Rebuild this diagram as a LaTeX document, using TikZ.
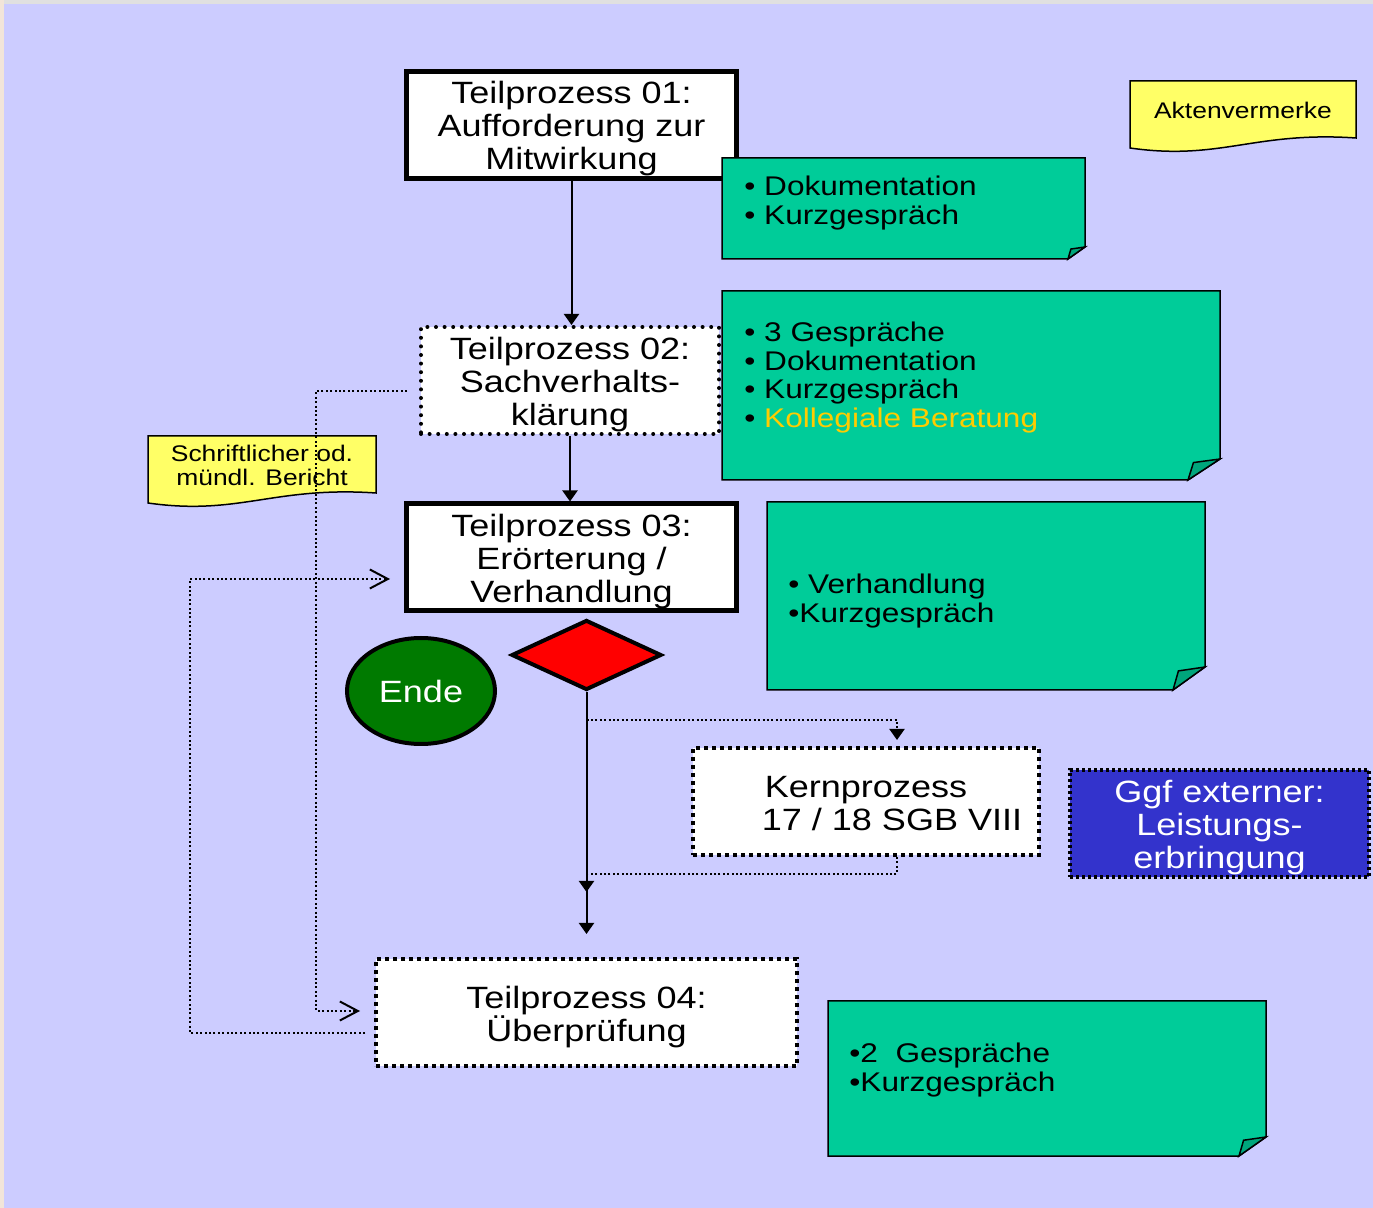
\documentclass[tikz,border=0pt]{standalone}
\usepackage{fontspec}
\setmainfont[FakeStretch=1.17]{Liberation Sans}
\usetikzlibrary{arrows.meta,shapes.geometric,calc}

\definecolor{lavbg}{HTML}{CCCCFF}
\definecolor{notegreen}{HTML}{00CC99}
\definecolor{folddark}{HTML}{00A67C}
\definecolor{docyellow}{HTML}{FFFF66}
\definecolor{gold}{HTML}{FFCC00}
\definecolor{endegreen}{HTML}{007A00}
\definecolor{extblue}{HTML}{3333CC}

\newcommand{\boxfont}{\fontsize{15.4}{16.5}\selectfont}
\newcommand{\notefont}{\fontsize{13.5}{14.2}\selectfont}
\newcommand{\docfont}{\fontsize{11.3}{12}\selectfont}

% gruene Notiz mit umgeknickter Ecke: Knoten, Breite und Hoehe der Ecke
\newcommand{\foldnote}[3]{%
  \filldraw[fill=notegreen, draw=black, line width=0.75pt] (#1.north west) -- (#1.north east)
    -- ([yshift=#3]#1.south east) -- ([xshift=-#2]#1.south east) -- (#1.south west) -- cycle;
  \filldraw[fill=folddark, draw=black, line width=0.75pt] ([xshift=-#2]#1.south east)
    -- ([xshift=-0.83*#2, yshift=0.83*#3]#1.south east) -- ([yshift=#3]#1.south east) -- cycle;
}
% gelbes Dokument mit Wellenkante
\newcommand{\docnote}[1]{%
  \filldraw[fill=docyellow, draw=black, line width=0.75pt] (#1.north west) -- (#1.north east)
    -- ([yshift=5pt]#1.south east)
    .. controls ($(#1.south west)!0.55!(#1.south east)+(0,8.5pt)$)
    and ($(#1.south west)!0.4!(#1.south east)+(0,-6.5pt)$) .. (#1.south west) -- cycle;
}

\begin{document}
\begin{tikzpicture}[x=0.5pt, y=-0.5pt,
  prozess/.style={draw, line width=2.5pt, fill=white, minimum width=165pt,
    minimum height=53.5pt, inner sep=0pt, align=center, font=\boxfont,
    text height=45pt, text depth=0pt},
  zweizeilig/.style={text height=29pt},
  punkte/.style={prozess, line width=2pt, dash pattern=on 0pt off 4.3pt, line cap=round},
  striche/.style={prozess, line width=2pt, dash pattern=on 2pt off 2pt},
  notearea/.style={inner sep=0pt, outer sep=0pt},
  notetext/.style={anchor=base west, align=left, inner sep=0pt, font=\notefont},
  doctext/.style={align=center, inner sep=0pt, font=\docfont},
  mainline/.style={line width=1pt, -{Triangle[length=5.5pt, width=7.5pt]}},
  dotline/.style={line width=1pt, dash pattern=on 1pt off 1.2pt},
  barb/.style={-{Straight Barb[length=9pt, width=9.5pt, line width=1pt]}},
  fillarrow/.style={-{Triangle[length=5.5pt, width=7.5pt]}}]

\useasboundingbox (0,0) rectangle (1373,1208);
\fill[lavbg] (0,0) rectangle (1373,1208);
\fill[black!12!white] (0,0) rectangle (1373,4);
\fill[brown!20!white] (0,0) rectangle (4,1208);

% Teilprozesse
\node[prozess] (tp1) at (571.5,125) {Teilprozess 01:\\Aufforderung zur\\Mitwirkung};
\node[punkte, minimum width=149pt] (tp2) at (570,380.5) {Teilprozess 02:\\Sachverhalts-\\klärung};
\node[prozess] (tp3) at (571.5,557.5) {Teilprozess 03:\\Erörterung /\\Verhandlung};
\node[striche, zweizeilig, minimum width=210.5pt] (tp4) at (586.5,1012.5) {Teilprozess 04:\\Überprüfung};
\node[striche, zweizeilig, minimum width=173pt] (kern) at (866,801.5) {Kernprozess\\\hspace*{26pt}17 / 18 SGB VIII};
\node[striche, minimum width=149.5pt, line width=1.7pt, dash pattern=on 1.5pt off 1.5pt,
  fill=extblue, text=white] (extern) at (1219.5,823.5) {Ggf externer:\\Leistungs-\\erbringung};

\node[ellipse, draw, line width=2pt, fill=endegreen, text=white, font=\boxfont,
  minimum width=74pt, minimum height=53pt, inner sep=0pt] (ende) at (421,691) {Ende};
\node[diamond, draw, line width=2pt, fill=red, minimum width=75pt, minimum height=35pt,
  inner sep=0pt] (dia) at (586.5,655) {};

% Notizen
\node[notearea, minimum width=181.5pt, minimum height=50.5pt] (n1) at (903.5,208.5) {};
\foldnote{n1}{8.5pt}{6pt}
\node[notetext] (n1txt) at (744,224.4) {\textbullet\ Dokumentation\\\textbullet\ Kurzgespräch};

\node[notearea, minimum width=249pt, minimum height=94.5pt] (n2) at (971,385.5) {};
\foldnote{n2}{16pt}{10.5pt}
\node[notetext] (n2txt) at (744,427.2) {\textbullet\ 3 Gespräche\\\textbullet\ Dokumentation\\
  \textbullet\ Kurzgespräch\\\textbullet\ {\color{gold}Kollegiale Beratung}};

\node[notearea, minimum width=219pt, minimum height=94pt] (n3) at (986,596) {};
\foldnote{n3}{16pt}{11.5pt}
\node[notetext] (n3txt) at (788,622.4) {\textbullet\ Verhandlung\\\textbullet Kurzgespräch};

\node[notearea, minimum width=219pt, minimum height=77.5pt] (n4) at (1047,1078.5) {};
\foldnote{n4}{13.5pt}{9.5pt}
\node[notetext] (n4txt) at (849,1091.4) {\textbullet 2\ \ Gespräche\\\textbullet Kurzgespräch};

% Dokumente
\node[notearea, minimum width=113pt, minimum height=33.5pt] (akten) at (1243,114.5) {};
\docnote{akten}
\node[doctext] (aktentxt) at (1243,110) {Aktenvermerke};

\node[notearea, minimum width=114pt, minimum height=33.5pt] (bericht) at (262,469.5) {};
\docnote{bericht}
\node[doctext] (berichttxt) at (262,465) {Schriftlicher od.\\mündl. Bericht};

% Verbindungen
\draw[mainline] (tp1.south) -- (tp1.south |- tp2.north);
\draw[mainline] (tp2.south) -- (tp2.south |- tp3.north);
\draw[mainline] (dia.south) -- (dia.south |- 0,934);

\coordinate (abzw) at ([yshift=-14pt]dia.south);
\coordinate (rueck) at ([yshift=-100pt]dia.south);
\draw[dotline, fillarrow, shorten >=3pt] (abzw) -| ([xshift=15.5pt]kern.north);
\draw[dotline, fillarrow] ([xshift=15.5pt]kern.south) -- ++(0,17) -| (rueck);

\draw[dotline, barb] ([xshift=-6pt,yshift=-5.25pt]tp2.west) -- ++(-91,0)
  |- ([xshift=-7pt,yshift=0.75pt]tp4.west);
\draw[dotline, barb] ([xshift=-4.5pt,yshift=-10.25pt]tp4.west) -- ++(-175,0)
  |- ([xshift=-7pt,yshift=-10.75pt]tp3.west);

\end{tikzpicture}
\end{document}
